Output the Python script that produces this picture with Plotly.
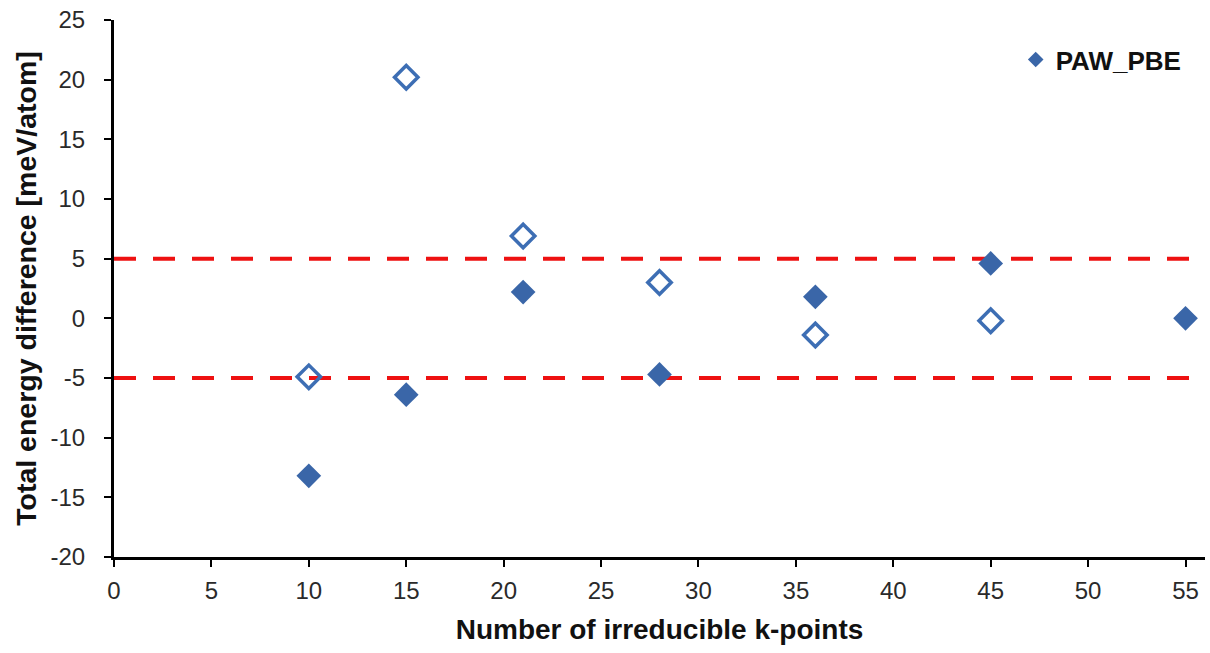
import plotly.graph_objects as go

# Data
kpoints_filled = [10, 15, 21, 28, 36, 45, 55]
energy_filled = [-13.2, -6.4, 2.2, -4.7, 1.8, 4.6, 0.0]

kpoints_open = [10, 15, 21, 28, 36, 45]
energy_open = [-4.9, 20.2, 6.9, 3.0, -1.4, -0.2]

threshold_x = [0, 56]
threshold_upper = [5, 5]
threshold_lower = [-5, -5]

x_ticks = [0, 5, 10, 15, 20, 25, 30, 35, 40, 45, 50, 55]
y_ticks = [-20, -15, -10, -5, 0, 5, 10, 15, 20, 25]

fig = go.Figure()

for yy in (threshold_upper, threshold_lower):
    fig.add_trace(go.Scatter(
        x=threshold_x, y=yy, mode="lines",
        line=dict(color="#EE1111", width=4, dash="22px,17px"),
        showlegend=False, hoverinfo="skip"))

fig.add_trace(go.Scatter(
    x=kpoints_open, y=energy_open, mode="markers",
    marker=dict(symbol="diamond-open", size=18, color="#3D6EB4",
                line=dict(width=3.5, color="#3D6EB4")),
    showlegend=False))

fig.add_trace(go.Scatter(
    x=kpoints_filled, y=energy_filled, mode="markers", name="PAW_PBE",
    marker=dict(symbol="diamond", size=19, color="#3A66A8"),
    showlegend=True))

FONT = "Liberation Sans, Arial, sans-serif"

fig.update_layout(
    width=1210, height=653,
    margin=dict(l=114, r=5, t=20, b=96),
    paper_bgcolor="white", plot_bgcolor="white",
    font=dict(family=FONT, size=24, color="#2a2a2a"),
    legend=dict(x=0.8265, y=0.97, xanchor="left", yanchor="top",
                font=dict(size=26, color="#111111", family=FONT, weight="bold"),
                itemsizing="constant", bgcolor="rgba(0,0,0,0)"),
    xaxis=dict(
        range=[0, 56], tickvals=x_ticks, ticktext=[str(v) for v in x_ticks],
        showgrid=False, zeroline=False,
        showline=True, linecolor="black", linewidth=3,
        ticks="outside", ticklen=7, tickwidth=2, tickcolor="black",
        ticklabelstandoff=3,
        title=dict(text="<b>Number of irreducible k-points</b>", standoff=17,
                   font=dict(size=28, color="#111111"))),
    yaxis=dict(
        range=[-20, 25], tickvals=y_ticks, ticktext=[str(v) for v in y_ticks],
        showgrid=False, zeroline=False,
        showline=True, linecolor="black", linewidth=3,
        ticks="outside", ticklen=7, tickwidth=2, tickcolor="black",
        ticklabelstandoff=14,
        title=dict(text="<b>Total energy difference [meV/atom]</b>", standoff=6,
                   font=dict(size=28.5, color="#111111"))),
)

fig.write_html("out.html")
